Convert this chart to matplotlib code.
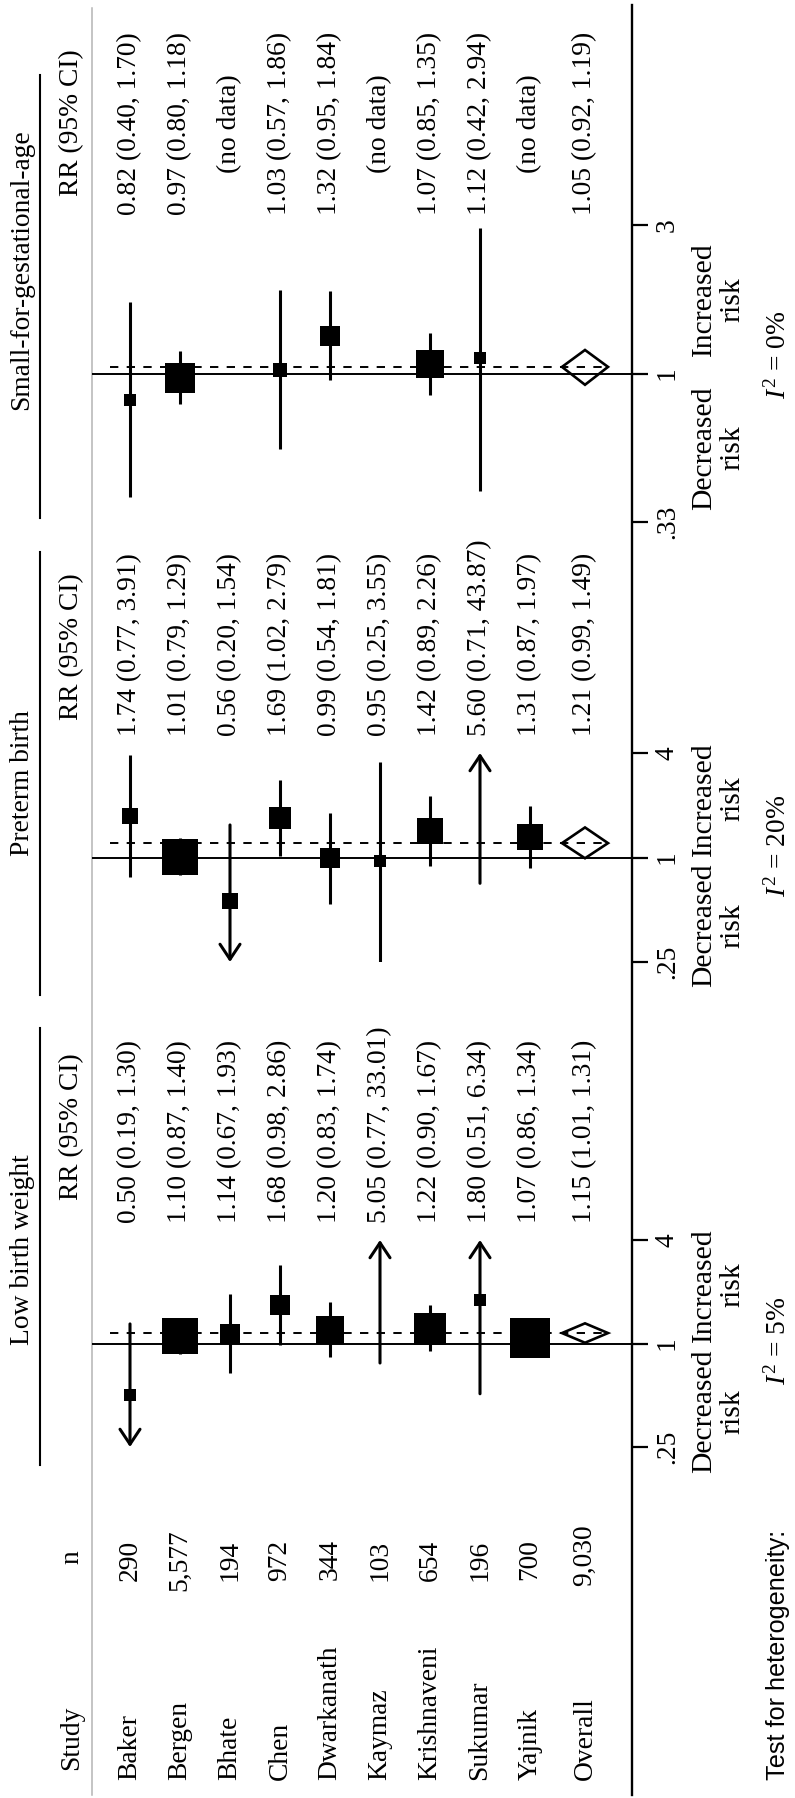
import numpy as np
import matplotlib
matplotlib.use("Agg")
import matplotlib.pyplot as plt
import matplotlib.transforms as mtransforms
from matplotlib.patches import Polygon
from matplotlib.ticker import NullLocator

plt.rcParams['font.family'] = ['Liberation Serif', 'DejaVu Serif']
plt.rcParams['mathtext.fontset'] = 'custom'
plt.rcParams['mathtext.rm'] = 'Liberation Serif'
plt.rcParams['mathtext.it'] = 'Liberation Serif:italic'
plt.rcParams['lines.scale_dashes'] = False

# ---- data ----
studies = ['Baker', 'Bergen', 'Bhate', 'Chen', 'Dwarkanath', 'Kaymaz',
           'Krishnaveni', 'Sukumar', 'Yajnik']
n_study = ['290', '5,577', '194', '972', '344', '103', '654', '196', '700']
n_overall = '9,030'

nan = np.nan
lbw_rr = [0.50, 1.10, 1.14, 1.68, 1.20, 5.05, 1.22, 1.80, 1.07]
lbw_lo = [0.19, 0.87, 0.67, 0.98, 0.83, 0.77, 0.90, 0.51, 0.86]
lbw_hi = [1.30, 1.40, 1.93, 2.86, 1.74, 33.01, 1.67, 6.34, 1.34]
lbw_w = [2.9, 23.7, 6.9, 7.6, 13.6, 1.7, 17.7, 2.5, 29.1]
lbw_overall = (1.15, 1.01, 1.31)
lbw_i2 = 5

ptb_rr = [1.74, 1.01, 0.56, 1.69, 0.99, 0.95, 1.42, 5.60, 1.31]
ptb_lo = [0.77, 0.79, 0.20, 1.02, 0.54, 0.25, 0.89, 0.71, 0.87]
ptb_hi = [3.91, 1.29, 1.54, 2.79, 1.81, 3.55, 2.26, 43.87, 1.97]
ptb_w = [5.0, 23.7, 3.9, 8.4, 7.6, 2.5, 11.7, 1.7, 12.6]
ptb_overall = (1.21, 0.99, 1.49)
ptb_i2 = 20

sga_rr = [0.82, 0.97, nan, 1.03, 1.32, nan, 1.07, 1.12, nan]
sga_lo = [0.40, 0.80, nan, 0.57, 0.95, nan, 0.85, 0.42, nan]
sga_hi = [1.70, 1.18, nan, 1.86, 1.84, nan, 1.35, 2.94, nan]
sga_w = [2.5, 16.6, nan, 3.4, 6.9, nan, 13.6, 2.5, nan]
sga_overall = (1.05, 0.92, 1.19)
sga_i2 = 0

# ---- layout (pixels of the 795 x 1798 canvas) ----
W, H = 795, 1798
FS = 19.8
FS_RISK = 21.3
ROW0, STEP = 130, 50


def rx(px):
    return (px - ROW0) / STEP


rows = np.arange(len(studies))
overall_pos = rx(585)
dia_hw = 0.46

fig = plt.figure(figsize=(W / 100, H / 100), dpi=100)
base = fig.add_axes([0, 0, 1, 1])
base.set_xlim(rx(0), rx(W))
base.set_ylim(H, 0)
base.axis('off')
renderer = fig.canvas.get_renderer()

panels = [
    dict(title='Small-for-gestational-age', rr=sga_rr, lo=sga_lo, hi=sga_hi,
         w=sga_w, overall=sga_overall, i2=sga_i2, lim=(1 / 3, 3), px=(522, 225),
         ticks=[1 / 3, 1, 3], labels=['.33', '1', '3'],
         title_y=270, rule=(75, 518), head_y=123, text_y=215, i2_y=355),
    dict(title='Preterm birth', rr=ptb_rr, lo=ptb_lo, hi=ptb_hi,
         w=ptb_w, overall=ptb_overall, i2=ptb_i2, lim=(0.25, 4), px=(962, 753),
         ticks=[0.25, 1, 4], labels=['.25', '1', '4'],
         title_y=783, rule=(552, 995), head_y=647, text_y=736, i2_y=846),
    dict(title='Low birth weight', rr=lbw_rr, lo=lbw_lo, hi=lbw_hi,
         w=lbw_w, overall=lbw_overall, i2=lbw_i2, lim=(0.25, 4), px=(1447, 1240),
         ticks=[0.25, 1, 4], labels=['.25', '1', '4'],
         title_y=1250, rule=(1028, 1465), head_y=1127, text_y=1223, i2_y=1341),
]

txt = dict(rotation=90, fontsize=FS)


def risk_label(ax, trans, text, val, above, gap):
    # centred between the ticks, but pushed away from the "1" tick if it would cross it
    t = base.text(rx(718), val, text, transform=trans, ha='center', va='center',
                  multialignment='center', rotation=90, fontsize=FS_RISK,
                  linespacing=1.1)
    bb = t.get_window_extent(renderer)
    y1 = ax.transData.transform((0, 1))[1]
    shift = 0.0
    if above and bb.y0 < y1 + gap:
        shift = y1 + gap - bb.y0
    if not above and bb.y1 > y1 - gap:
        shift = y1 - gap - bb.y1
    t.set_transform(trans + mtransforms.Affine2D().translate(0, shift))


for p in panels:
    bottom_px, top_px = p['px']
    ax = fig.add_axes([92 / W, 1 - bottom_px / H, 540 / W, (bottom_px - top_px) / H])
    ax.set_yscale('log')
    ymin, ymax = p['lim']
    ax.set_ylim(ymin, ymax)
    ax.set_xlim(rx(92), rx(632))
    ax.patch.set_visible(False)
    for s in ax.spines.values():
        s.set_visible(False)
    ax.set_xticks([])
    ax.set_yticks(p['ticks'])
    ax.set_yticklabels(p['labels'])
    ax.yaxis.set_minor_locator(NullLocator())
    ax.tick_params(axis='y', which='both', left=False, labelleft=False,
                   right=True, labelright=True, length=11.5, width=1.6,
                   labelsize=FS, labelrotation=90, pad=5)
    for lbl in ax.get_yticklabels():
        lbl.set_va('center')
        lbl.set_ha('left')

    ax.axhline(1, color='black', lw=1.4, zorder=2)
    o_rr, o_lo, o_hi = p['overall']
    ax.plot([rx(110), overall_pos + dia_hw], [o_rr, o_rr], color='black',
            lw=1.4, dashes=(6, 6), zorder=3)
    dia = Polygon([(overall_pos - dia_hw, o_rr), (overall_pos, o_hi),
                   (overall_pos + dia_hw, o_rr), (overall_pos, o_lo)],
                  closed=True, facecolor='none', edgecolor='black', lw=1.9, zorder=4)
    ax.add_patch(dia)

    for i in rows:
        rr, lo, hi = p['rr'][i], p['lo'][i], p['hi'][i]
        if np.isnan(rr):
            continue
        lo_c, hi_c = max(lo, ymin), min(hi, ymax)
        if lo < ymin or hi > ymax:
            style = {(True, True): '<->', (True, False): '->', (False, True): '<-'}
            key = (hi > ymax, lo < ymin)
            ax.annotate('', xy=(i, hi_c), xytext=(i, lo_c), annotation_clip=False,
                        arrowprops=dict(arrowstyle=style[key] + ',head_length=0.54,head_width=0.36',
                                        lw=2.2, color='black', mutation_scale=20,
                                        shrinkA=0, shrinkB=0))
        else:
            ax.vlines(i, lo_c, hi_c, color='black', lw=2.2, zorder=3)
        if ymin <= rr <= ymax:
            side = 7.6 * np.sqrt(p['w'][i]) * 0.72
            ax.plot(i, rr, 's', color='black', ms=side, mew=0, zorder=5)

    # text columns
    base.text(rx(22), p['title_y'], p['title'], ha='center', va='center', **txt)
    base.plot([rx(40), rx(40)], p['rule'], color='black', lw=1.5)
    base.text(rx(72), p['head_y'], 'RR (95% CI)', ha='center', va='center', **txt)
    for i in rows:
        rr, lo, hi = p['rr'][i], p['lo'][i], p['hi'][i]
        if np.isnan(rr):
            base.text(i, p['text_y'] - 91, '(no data)', ha='center', va='center', **txt)
        else:
            base.text(i, p['text_y'], f'{rr:.2f} ({lo:.2f}, {hi:.2f})',
                      ha='center', va='bottom', **txt)
    base.text(overall_pos, p['text_y'], f'{o_rr:.2f} ({o_lo:.2f}, {o_hi:.2f})',
              ha='center', va='bottom', **txt)

    trans = mtransforms.blended_transform_factory(base.transData, ax.transData)
    risk_label(ax, trans, 'Decreased\nrisk', np.sqrt(ymin), above=False, gap=6)
    risk_label(ax, trans, 'Increased\nrisk', np.sqrt(ymax), above=True, gap=2)
    base.text(rx(778), p['i2_y'], rf'$I^2$ = {p["i2"]}%', ha='center', va='center', **txt)

# study and n columns
base.text(rx(72), 1770, 'Study', ha='center', va='bottom', **txt)
base.text(rx(72), 1557, 'n', ha='center', va='center', **txt)
for i in rows:
    base.text(i, 1780, studies[i], ha='center', va='bottom', **txt)
    base.text(i, 1560, n_study[i], ha='center', va='center', **txt)
base.text(overall_pos, 1780, 'Overall', ha='center', va='bottom', **txt)
base.text(overall_pos, 1555, n_overall, ha='center', va='center', **txt)
base.text(rx(778), 1780, 'Test for heterogeneity:', ha='center', va='bottom',
          rotation=90, fontsize=18.2, family=['Liberation Sans', 'DejaVu Sans'])

# frame lines
base.plot([rx(632), rx(632)], [5, 1795], color='black', lw=1.7)
base.plot([rx(92), rx(92)], [8, 1795], color='#b4b4b4', lw=1.1)

fig.savefig('out.png', dpi=100)
